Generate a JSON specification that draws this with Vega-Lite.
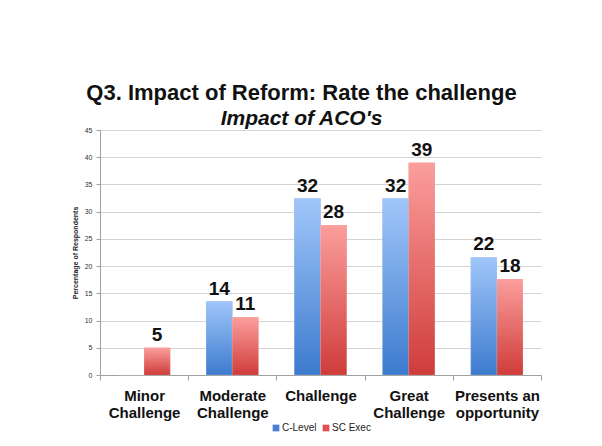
{
  "$schema": "https://vega.github.io/schema/vega-lite/v6.json",
  "width": 441,
  "height": 245,
  "autosize": {"type": "none"},
  "padding": {"left": 100, "top": 130, "right": 61, "bottom": 71},
  "background": "white",
  "config": {
    "font": "Liberation Sans",
    "view": {"stroke": null},
    "legend": {"layout": {"bottom": {"anchor": "middle"}}}
  },
  "title": {
    "text": "Q3. Impact of Reform: Rate the challenge",
    "subtitle": "Impact of ACO's",
    "anchor": "middle",
    "frame": "group",
    "dx": -19,
    "offset": -4,
    "fontSize": 22,
    "fontWeight": "bold",
    "color": "#111111",
    "subtitleFontSize": 21,
    "subtitleFontWeight": "bold",
    "subtitleFontStyle": "italic",
    "subtitleColor": "#111111",
    "subtitlePadding": 3
  },
  "data": {
    "values": [
      {"category": "Minor Challenge", "series": "C-Level", "value": 0},
      {"category": "Minor Challenge", "series": "SC Exec", "value": 5.0},
      {"category": "Moderate Challenge", "series": "C-Level", "value": 13.5},
      {"category": "Moderate Challenge", "series": "SC Exec", "value": 10.6},
      {"category": "Challenge", "series": "C-Level", "value": 32.4},
      {"category": "Challenge", "series": "SC Exec", "value": 27.5},
      {"category": "Great Challenge", "series": "C-Level", "value": 32.4},
      {"category": "Great Challenge", "series": "SC Exec", "value": 39.0},
      {"category": "Presents an opportunity", "series": "C-Level", "value": 21.6},
      {"category": "Presents an opportunity", "series": "SC Exec", "value": 17.6}
    ]
  },
  "encoding": {
    "x": {
      "field": "category",
      "type": "nominal",
      "sort": null,
      "scale": {"paddingInner": 0, "paddingOuter": 0},
      "axis": {
        "title": null,
        "labelAngle": 0,
        "labelFontSize": 15,
        "labelFontWeight": "bold",
        "labelColor": "#111111",
        "labelLineHeight": 17,
        "labelPadding": 8,
        "tickBand": "extent",
        "tickColor": "#a0a0a0",
        "tickSize": 5,
        "domainColor": "#a0a0a0",
        "labelExpr": "!isString(datum.value) ? '' : datum.value == 'Challenge' ? ['Challenge'] : datum.value == 'Presents an opportunity' ? ['Presents an', 'opportunity'] : split(datum.value, ' ')"
      }
    },
    "xOffset": {
      "field": "series",
      "type": "nominal",
      "scale": {"paddingInner": 0, "paddingOuter": 0.69}
    },
    "y": {
      "field": "value",
      "type": "quantitative",
      "scale": {"domain": [0, 45]},
      "axis": {
        "title": "Percentage of Respondents",
        "titleFontSize": 7,
        "titleFontWeight": "bold",
        "titleColor": "#222222",
        "titlePadding": 6,
        "values": [0, 5, 10, 15, 20, 25, 30, 35, 40, 45],
        "labelFontSize": 7,
        "labelColor": "#333333",
        "labelPadding": 4,
        "tickSize": 4,
        "tickColor": "#a0a0a0",
        "domainColor": "#a0a0a0",
        "gridColor": "#d4d4d4",
        "grid": true
      }
    }
  },
  "layer": [
    {
      "mark": {"type": "bar"},
      "encoding": {
        "color": {
          "field": "series",
          "type": "nominal",
          "scale": {"domain": ["C-Level", "SC Exec"], "range": ["#4a80d4", "#e05252"]},
          "legend": {
            "title": null,
            "orient": "bottom",
            "direction": "horizontal",
            "symbolType": "square",
            "symbolSize": 45,
            "symbolStrokeWidth": 0,
            "labelFontSize": 10,
            "labelColor": "#222222",
            "columnPadding": 4,
            "offset": 3,
            "labelOffset": 1
          }
        }
      }
    },
    {
      "mark": {"type": "bar", "stroke": "#ffffff", "strokeOpacity": 0.3, "strokeWidth": 0.5},
      "encoding": {
        "fill": {
          "condition": {
            "test": "datum.series === 'C-Level'",
            "value": {
              "gradient": "linear", "x1": 0, "y1": 0, "x2": 0, "y2": 1,
              "stops": [{"offset": 0, "color": "#a0c6fa"}, {"offset": 1, "color": "#3d7bce"}]
            }
          },
          "value": {
            "gradient": "linear", "x1": 0, "y1": 0, "x2": 0, "y2": 1,
            "stops": [{"offset": 0, "color": "#fb9e9c"}, {"offset": 1, "color": "#cf3c3a"}]
          }
        }
      }
    },
    {
      "transform": [{"filter": "datum.value > 0"}],
      "mark": {"type": "text", "baseline": "alphabetic", "dy": -7, "fontSize": 19, "fontWeight": "bold", "color": "#111111"},
      "encoding": {
        "text": {"field": "value", "type": "quantitative", "format": ".0f"}
      }
    }
  ]
}
